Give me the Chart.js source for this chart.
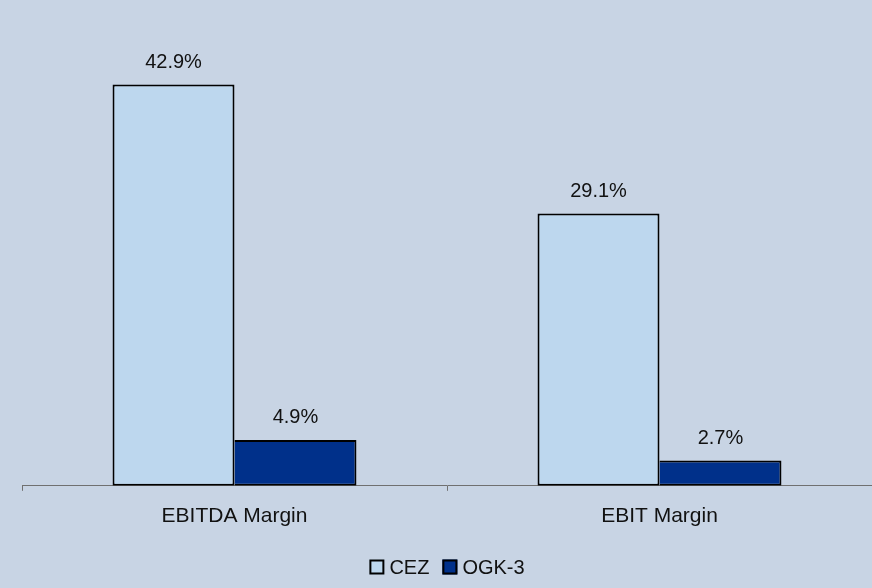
<!DOCTYPE html>
<html>
<head>
<meta charset="utf-8">
<script src="https://cdn.jsdelivr.net/npm/chart.js@4"></script>
<style>
  html, body { margin: 0; padding: 0; background: #C8D4E4; }
  #wrap { width: 872px; height: 588px; }
</style>
</head>
<body>
<div id="wrap"><canvas id="marginChart"></canvas></div>
<script>
// Chart data
const categories = ['EBITDA Margin', 'EBIT Margin']
const seriesNames = ['CEZ', 'OGK-3']
const cezValues = [42.9, 29.1]
const ogkValues = [4.9, 2.7]
const seriesColors = ['#BDD7EE', '#00308A']

const fontFamily = "'Liberation Sans', Arial, sans-serif"

// Put the value on top of every bar
const valueLabels = {
  id: 'valueLabels',
  afterDatasetsDraw(chart) {
    const ctx = chart.ctx
    ctx.save()
    ctx.font = '20px ' + fontFamily
    ctx.fillStyle = '#111'
    ctx.textAlign = 'center'
    ctx.textBaseline = 'middle'
    chart.data.datasets.forEach((ds, i) => {
      chart.getDatasetMeta(i).data.forEach((bar, j) => {
        ctx.fillText(ds.data[j].toFixed(1) + '%', bar.x, bar.y - 22)
      })
    })
    ctx.restore()
  }
}

// Legend drawn by hand, small gap between box and text
const bottomLegend = {
  id: 'bottomLegend',
  afterDraw(chart) {
    const ctx = chart.ctx
    const boxSize = 15
    const gap = 5
    const itemGap = 13
    ctx.save()
    ctx.font = '20px ' + fontFamily
    const widths = chart.data.datasets.map(ds => ctx.measureText(ds.label).width)
    let total = 0
    widths.forEach((w, i) => {
      total += boxSize + gap + w + (i < widths.length - 1 ? itemGap : 0)
    })
    const area = chart.chartArea
    let x = (area.left + area.right) / 2 - total / 2
    const y = 567
    ctx.textBaseline = 'middle'
    chart.data.datasets.forEach((ds, i) => {
      ctx.fillStyle = ds.backgroundColor
      ctx.fillRect(x, y - boxSize / 2, boxSize, boxSize)
      ctx.strokeStyle = '#000'
      ctx.lineWidth = 2
      ctx.strokeRect(x + 1, y - boxSize / 2 + 1, boxSize - 2, boxSize - 2)
      ctx.fillStyle = '#111'
      ctx.fillText(ds.label, x + boxSize + gap, y + 1)
      x += boxSize + gap + widths[i] + itemGap
    })
    ctx.restore()
  }
}

const ctx = document.getElementById('marginChart').getContext('2d')
new Chart(ctx, {
  type: 'bar',
  data: {
    labels: categories,
    datasets: [
      {
        label: seriesNames[0],
        data: cezValues,
        backgroundColor: seriesColors[0],
        borderColor: '#000',
        borderWidth: 2,
        borderSkipped: false
      },
      {
        label: seriesNames[1],
        data: ogkValues,
        backgroundColor: seriesColors[1],
        borderColor: '#000',
        borderWidth: { top: 2, left: 0, right: 2, bottom: 2 },
        borderSkipped: false
      }
    ]
  },
  options: {
    responsive: true,
    maintainAspectRatio: false,
    animation: false,
    categoryPercentage: 0.574,
    barPercentage: 1,
    layout: {
      padding: { left: 22, right: 0, top: 18, bottom: 46 }
    },
    plugins: {
      legend: { display: false },
      tooltip: { enabled: false }
    },
    scales: {
      x: {
        grid: {
          offset: true,
          drawOnChartArea: false,
          drawTicks: true,
          tickLength: 5,
          color: '#707070'
        },
        border: { color: '#707070', width: 1 },
        ticks: {
          padding: 13,
          color: '#111',
          font: { size: 21, family: fontFamily }
        }
      },
      y: {
        display: false,
        min: 0,
        max: 50
      }
    }
  },
  plugins: [valueLabels, bottomLegend]
})
</script>
</body>
</html>
